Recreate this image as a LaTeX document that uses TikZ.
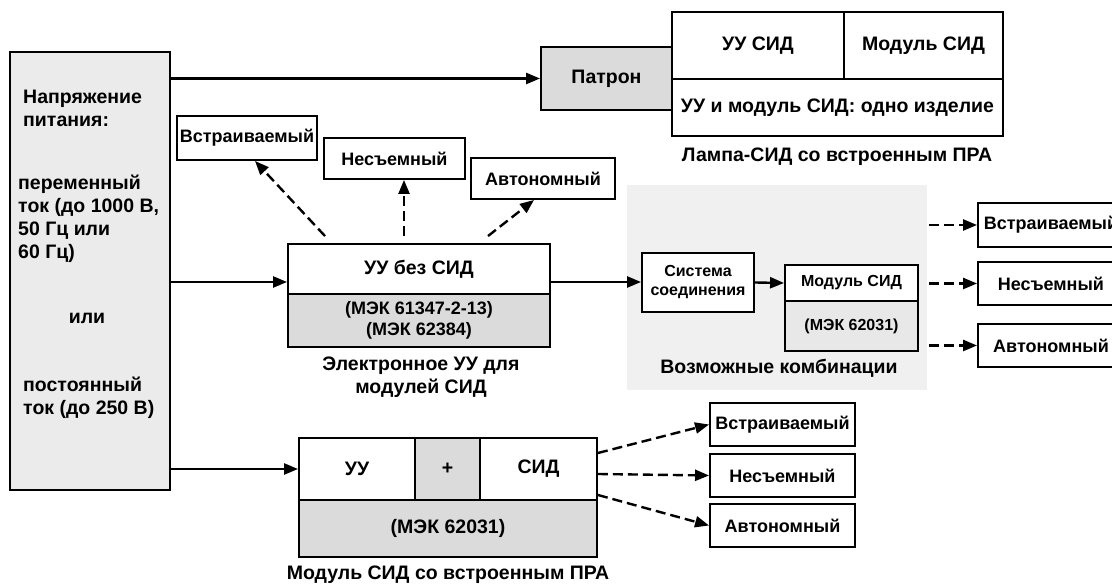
\documentclass[tikz,border=0pt]{standalone}
\usepackage{fontspec}
\setmainfont{Liberation Sans}
\usetikzlibrary{arrows.meta}

\begin{document}
\begin{tikzpicture}[x=1pt,y=1pt,
    box/.style={draw,line width=1.9pt,inner sep=0pt,align=center,font=\bfseries\fontsize{18}{21}\selectfont},
    txt/.style={inner sep=0pt,align=center,font=\bfseries\fontsize{19.5}{23}\selectfont},
    big/.style={font=\bfseries\fontsize{19.5}{23}\selectfont},
    small/.style={font=\bfseries\fontsize{16}{19}\selectfont},
    shaded/.style={fill=black!14},
    arr/.style={draw,line width=2.4pt,-{Triangle[length=14pt,width=11pt]}},
    dasharr/.style={arr,dash pattern=on 10pt off 5pt}]
  \useasboundingbox (0,0) rectangle (1112,586);
  \clip (0,0) rectangle (1112,586);

  \begin{scope}
    \node (supply) [box,fill=black!8,minimum width=160,minimum height=438] at (90,315) {};
    \node (supplyhead) [txt,anchor=west,align=left] at (23,477.5) {Напряжение\\питания:};
    \node (supplyac) [txt,anchor=west,align=left] at (18,367) {переменный\\ток (до 1000 В,\\50 Гц или\\60 Гц)};
    \node (supplyor) [txt] at (87,268) {или};
    \node (supplydc) [txt,anchor=west,align=left] at (23,188) {постоянный\\ток (до 250 В)};
  \end{scope}

  \begin{scope}
    \node (patron) [box,big,shaded,minimum width=131,minimum height=63] at (606.5,507.5) {Патрон};
    \node (lampcu) [box,big,minimum width=172,minimum height=67] at (758,540.5) {УУ СИД};
    \node (lampmod) [box,big,minimum width=159,minimum height=67] at (923.5,540.5) {Модуль СИД};
    \node (lampone) [box,big,minimum width=331,minimum height=57] at (837.5,478.5) {УУ и модуль СИД: одно изделие};
    \node (lampcap) [txt] at (837,429) {Лампа-СИД со встроенным ПРА};
  \end{scope}

  \begin{scope}
    \node (embA) [box,minimum width=140,minimum height=44] at (247,448) {Встраиваемый};
    \node (fixA) [box,minimum width=141,minimum height=41] at (394.5,427.5) {Несъемный};
    \node (indA) [box,minimum width=144,minimum height=41] at (543,407.5) {Автономный};
    \node (gearhead) [box,big,minimum width=262,minimum height=50] at (419,317) {УУ без СИД};
    \node (gearstd) [box,shaded,minimum width=262,minimum height=53] at (419,265.5) {(МЭК 61347-2-13)\\(МЭК 62384)};
    \node (gearcap) [txt] at (421,208.5) {Электронное УУ для\\модулей СИД};
  \end{scope}

  \begin{scope}
    \node (region) [fill=black!6,inner sep=0pt,minimum width=300,minimum height=205] at (777,298.5) {};
    \node (syscon) [box,small,fill=white,minimum width=112,minimum height=59] at (698,303.5) {Система\\соединения};
    \node (modhead) [box,small,fill=white,minimum width=133,minimum height=36] at (851.5,303) {Модуль СИД};
    \node (modstd) [box,small,fill=black!9,minimum width=133,minimum height=50] at (851.5,260) {(МЭК 62031)};
    \node (regioncap) [txt] at (779,218) {Возможные комбинации};
    \node (embB) [box,minimum width=146,minimum height=44] at (1051,361) {Встраиваемый};
    \node (fixB) [box,minimum width=146,minimum height=43] at (1051,302.5) {Несъемный};
    \node (indB) [box,minimum width=146,minimum height=43] at (1051,240.5) {Автономный};
  \end{scope}

  \begin{scope}
    \node (botuu) [box,big,minimum width=116,minimum height=62] at (357,117) {УУ};
    \node (botplus) [box,big,shaded,minimum width=65,minimum height=62] at (447.5,117) {+};
    \node (botsid) [box,big,minimum width=117,minimum height=62] at (538.5,117) {СИД};
    \node (botstd) [box,big,shaded,minimum width=298,minimum height=57] at (448,57.5) {(МЭК 62031)};
    \node (botcap) [txt] at (448,11) {Модуль СИД со встроенным ПРА};
    \node (embC) [box,minimum width=145,minimum height=43] at (782.5,161.5) {Встраиваемый};
    \node (fixC) [box,minimum width=145,minimum height=43] at (782.5,110.5) {Несъемный};
    \node (indC) [box,minimum width=145,minimum height=43] at (782.5,60.5) {Автономный};
  \end{scope}

  \coordinate (rowB) at (0,304);

  \begin{scope}
    \draw [arr] (supply.east |- patron.west) -- (patron.west);
    \draw [arr] (supply.east |- rowB) -- (gearhead.west |- rowB);
    \draw [arr] (supply.east |- botuu.west) -- (botuu.west);
    \draw [arr] (gearhead.east |- rowB) -- (syscon.west |- rowB);
    \draw [arr] (syscon.east) -- (modhead.west);
  \end{scope}

  \begin{scope}
    \draw [dasharr] ([xshift=-94pt,yshift=7pt]gearhead.north) -- ([xshift=8pt]embA.south);
    \draw [dasharr] ([xshift=-15pt,yshift=7pt]gearhead.north) -- ([xshift=9.5pt]fixA.south);
    \draw [dasharr] ([xshift=69pt,yshift=7pt]gearhead.north) -- ([xshift=-9pt]indA.south);
    \draw [dasharr] ([xshift=2pt]region.east |- embB.west) -- (embB.west);
    \draw [dasharr] ([xshift=2pt]region.east |- fixB.west) -- (fixB.west);
    \draw [dasharr] ([xshift=2pt]region.east |- indB.west) -- (indB.west);
    \draw [dasharr] ([yshift=16pt]botsid.east) -- (embC.west);
    \draw [dasharr] ([yshift=-5pt]botsid.east) -- (fixC.west);
    \draw [dasharr] ([yshift=-26pt]botsid.east) -- (indC.west);
  \end{scope}
\end{tikzpicture}
\end{document}
